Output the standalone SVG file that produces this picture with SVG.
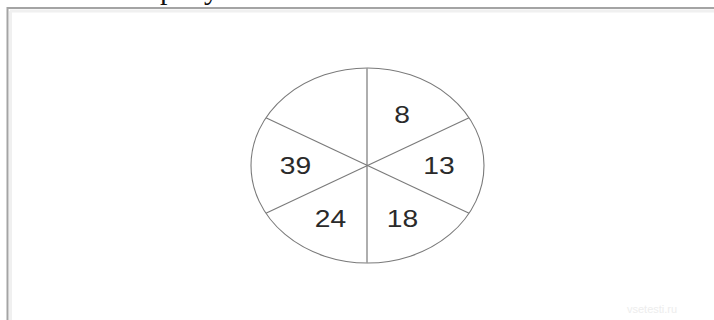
<svg xmlns="http://www.w3.org/2000/svg" width="714" height="320" viewBox="0 0 714 320">
<style>
.frame{stroke:#a4a4a4;stroke-width:2;fill:none}
.inner{stroke:#f0f0f0;stroke-width:3;fill:none}
.ell{fill:#ffffff;stroke:#7a7a7a;stroke-width:1.1}
.div{stroke:#7a7a7a;stroke-width:1.1}
.vert{stroke:#9a9a9a;stroke-width:1.6}
.num{font-family:"Liberation Sans",Arial,sans-serif;font-size:23.5px;fill:#2a2a2a;text-anchor:middle}
.cut{font-family:"Liberation Serif","Times New Roman",serif;font-size:30px;fill:#111}
.wm{font-family:"Liberation Sans",Arial,sans-serif;font-size:11px;fill:#ededed}
</style>
<rect width="714" height="320" fill="#ffffff"/>
<text class="cut" x="160" y="-0.8">рисунке</text>
<line class="inner" x1="10" y1="11" x2="714" y2="11"/>
<line class="inner" x1="10.5" y1="11" x2="10.5" y2="320"/>
<path class="frame" d="M7.5 320 V8 H714"/>
<g id="circle">
<ellipse class="ell" cx="367.5" cy="165.5" rx="116.5" ry="97.5"/>
</g>
<g id="connectors">
<line class="vert" x1="367" y1="68" x2="367" y2="263"/>
<line class="div" x1="265.9" y1="117.7" x2="469.1" y2="213.3"/>
<line class="div" x1="265.9" y1="213.3" x2="469.1" y2="117.7"/>
</g>
<g id="n8"><text class="num" transform="translate(402,122.5) scale(1.2,1)">8</text></g>
<g id="n39"><text class="num" transform="translate(295.5,174) scale(1.2,1)">39</text></g>
<g id="n13"><text class="num" transform="translate(439,174) scale(1.2,1)">13</text></g>
<g id="n24"><text class="num" transform="translate(330.5,226.5) scale(1.2,1)">24</text></g>
<g id="n18"><text class="num" transform="translate(402.5,226.5) scale(1.2,1)">18</text></g>
<text class="wm" x="627" y="313">vsetesti.ru</text>
</svg>
